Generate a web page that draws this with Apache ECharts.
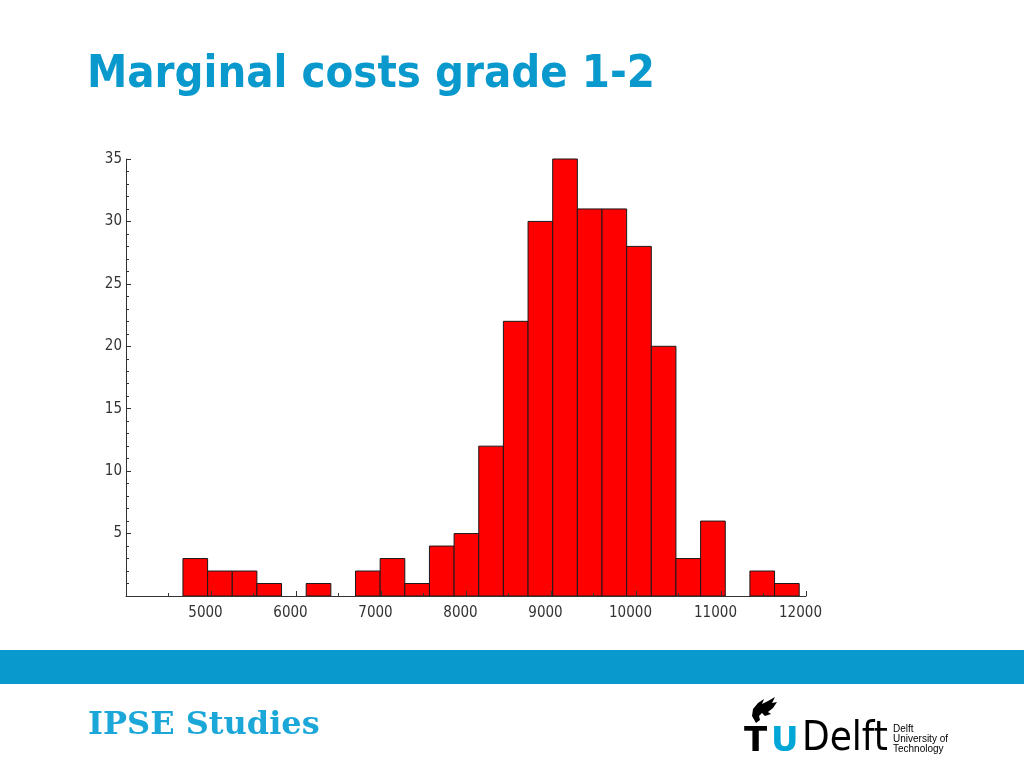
<!DOCTYPE html>
<html>
<head>
<meta charset="utf-8">
<title>Marginal costs grade 1-2</title>
<script src="https://cdn.jsdelivr.net/npm/echarts@6/dist/echarts.min.js"></script>
<style>
    html, body { margin: 0; padding: 0; background: #fff; }
    #main { width: 1024px; height: 768px; }
</style>
</head>
<body>
<div id="main"></div>
<script>
// histogram bins (marginal costs) and counts per bin
var binEdges = [4670, 4960, 5250, 5540, 5830, 6120, 6410, 6700, 6990, 7280, 7570, 7860, 8150,
    8440, 8730, 9020, 9310, 9600, 9890, 10180, 10470, 10760, 11050, 11340, 11630, 11920];
var counts = [3, 2, 2, 1, 0, 1, 0, 2, 3, 1, 4, 5, 12, 22, 30, 35, 31, 31, 28, 20, 3, 6, 0, 2, 1];

var xTicks = [4000, 12000, 1000];   // min, max, step
var yTicks = [0, 35, 5];

(function () {
    var myChart = echarts.init(document.getElementById('main'));

    var bins = [];
    for (var i = 0; i < counts.length; i++) {
        bins.push([binEdges[i], binEdges[i + 1], counts[i]]);
    }

    var axisColor = '#333';
    var labelFont = '"DejaVu Sans Condensed", "DejaVu Sans", sans-serif';

    var option = {
        animation: false,
        grid: { left: 126, right: 218, top: 159, bottom: 172 },
        xAxis: {
            type: 'value',
            min: xTicks[0],
            max: xTicks[1],
            interval: xTicks[2],
            z: 10,
            splitLine: { show: false },
            axisLine: { lineStyle: { color: axisColor, width: 1 } },
            axisTick: { inside: true, length: 5, lineStyle: { color: axisColor } },
            minorTick: { show: true, splitNumber: 2, length: 3, lineStyle: { color: axisColor } },
            axisLabel: {
                showMinLabel: false,
                color: axisColor,
                fontFamily: labelFont,
                fontSize: 15,
                margin: 10,
                padding: [0, 11, 0, 0],
                // plain numbers, no thousands separator
                formatter: function (v) { return String(v); }
            }
        },
        yAxis: {
            type: 'value',
            min: yTicks[0],
            max: yTicks[1],
            interval: yTicks[2],
            z: 10,
            splitLine: { show: false },
            axisLine: { show: true, lineStyle: { color: axisColor, width: 1 } },
            axisTick: { show: true, inside: true, length: 5, lineStyle: { color: axisColor } },
            minorTick: { show: true, splitNumber: 5, length: 3, lineStyle: { color: axisColor } },
            axisLabel: {
                showMinLabel: false,
                color: axisColor,
                fontFamily: labelFont,
                fontSize: 15,
                margin: 4
            }
        },
        series: [{
            type: 'custom',
            data: bins,
            encode: { x: [0, 1], y: 2 },
            renderItem: function (params, api) {
                if (!api.value(2)) return null;
                var p0 = api.coord([api.value(0), api.value(2)]);
                var p1 = api.coord([api.value(1), 0]);
                return {
                    type: 'rect',
                    shape: { x: p0[0], y: p0[1], width: p1[0] - p0[0], height: p1[1] - p0[1] },
                    style: { fill: '#ff0000', stroke: '#1a1a1a', lineWidth: 1 }
                };
            }
        }],
        graphic: [
            // slide title
            {
                type: 'text', x: 87, y: 53,
                style: {
                    text: 'Marginal costs grade 1-2',
                    fill: '#0a99cc',
                    font: 'bold 45px "DejaVu Sans Condensed", "DejaVu Sans", sans-serif',
                    verticalAlign: 'top'
                }
            },
            // blue band
            {
                type: 'rect',
                shape: { x: 0, y: 650, width: 1024, height: 34 },
                style: { fill: '#0a99cc' }
            },
            {
                type: 'text', x: 88, y: 710,
                style: {
                    text: 'IPSE Studies',
                    fill: '#1ba7d8',
                    font: 'bold 32px "DejaVu Serif", serif',
                    verticalAlign: 'top'
                }
            },
            // TU Delft logo
            {
                type: 'polygon',
                shape: {
                    points: [[756, 723], [752, 716], [753, 709], [758, 703], [764, 699], [762, 704], [768, 701],
                        [775, 697], [772, 703], [777, 702], [773, 708], [768, 712], [771, 714], [765, 716],
                        [762, 713], [759, 716], [760, 720]]
                },
                style: { fill: '#000' }
            },
            {
                type: 'text', x: 744, y: 725,
                style: { text: 'T', fill: '#000', font: 'bold 34px "DejaVu Sans", sans-serif', verticalAlign: 'top' }
            },
            {
                type: 'text', x: 771, y: 725,
                style: { text: 'U', fill: '#00a6d6', font: 'bold 34px "DejaVu Sans", sans-serif', verticalAlign: 'top' }
            },
            {
                type: 'text', x: 802, y: 720,
                style: { text: 'Delft', fill: '#000', font: '40px "DejaVu Sans Condensed", "DejaVu Sans", sans-serif', verticalAlign: 'top' }
            },
            {
                type: 'text', x: 893, y: 724,
                style: {
                    text: 'Delft\nUniversity of\nTechnology',
                    fill: '#000',
                    font: '10px "Liberation Sans", sans-serif',
                    lineHeight: 10,
                    verticalAlign: 'top'
                }
            }
        ]
    };

    myChart.setOption(option);
    window.addEventListener('resize', function () {
        myChart.resize();
    });
})();
</script>
</body>
</html>
